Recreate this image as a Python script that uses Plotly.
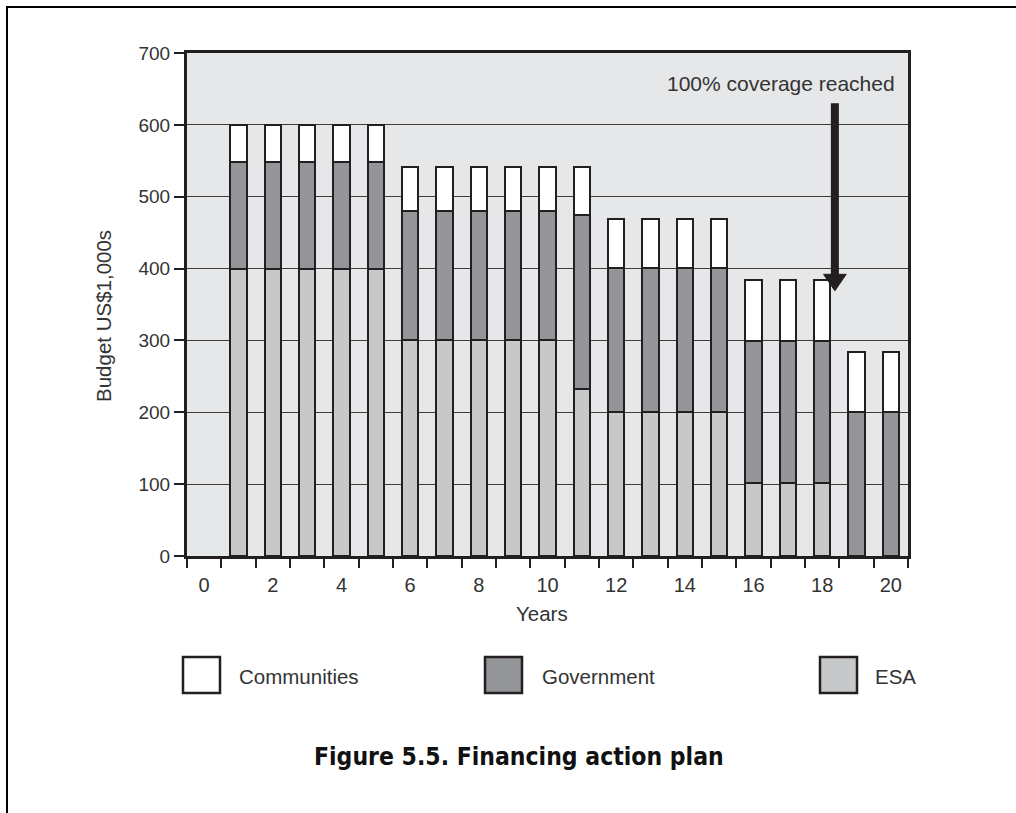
import plotly.graph_objects as go

# ---- data ----
years = list(range(1, 21))
esa = [400, 400, 400, 400, 400, 300, 300, 300, 300, 300, 232, 200, 200, 200, 200, 102, 102, 102, 0, 0]
government = [148, 148, 148, 148, 148, 180, 180, 180, 180, 180, 242, 201, 201, 201, 201, 197, 197, 197, 200, 200]
communities = [52, 52, 52, 52, 52, 62, 62, 62, 62, 62, 68, 68, 68, 68, 68, 85, 85, 85, 84, 84]
x_tick_labels = [str(v) for v in range(0, 21, 2)]
y_ticks = list(range(0, 701, 100))
series_names = ["Communities", "Government", "ESA"]
series_colors = {"Communities": "#ffffff", "Government": "#939598", "ESA": "#c7c8ca"}
annotation_text = "100% coverage reached"
caption = "Figure 5.5. Financing action plan"

W, H = 1016, 813
L, R, T, B = 187, 108, 53, 257
PW, PH = W - L - R, H - T - B

def px(xp):
    return (xp - L) / PW

def py(yp):
    return (H - B - yp) / PH

edge = "#231f20"
txt = "#333333"
font_main = "Liberation Sans, Arial, Helvetica, sans-serif"

fig = go.Figure()
for name, vals in [("ESA", esa), ("Government", government), ("Communities", communities)]:
    fig.add_trace(go.Bar(
        x=years, y=vals, name=name, width=0.48,
        marker=dict(color=series_colors[name], line=dict(color=edge, width=2)),
        showlegend=False,
    ))

shapes = []
annotations = []

# arrow (data coordinates)
ax_x = 18.37
shapes.append(dict(type="line", xref="x", yref="y", x0=ax_x, x1=ax_x, y0=630, y1=390,
                   line=dict(color=edge, width=8)))
shapes.append(dict(type="path", xref="x", yref="y",
                   path=f"M {ax_x-0.33},392 L {ax_x+0.33},392 L {ax_x},369 Z",
                   fillcolor=edge, line=dict(color=edge, width=1)))
annotations.append(dict(text=annotation_text, xref="x", yref="y", x=20.18, y=658,
                        xanchor="right", yanchor="middle", showarrow=False,
                        font=dict(size=21, color=txt, family=font_main)))

# legend boxes
legend_pos = {"Communities": (182, 237), "Government": (484, 540), "ESA": (819, 873)}
for name in series_names:
    bx, tx = legend_pos[name]
    shapes.append(dict(type="rect", xref="paper", yref="paper",
                       x0=px(bx + 1), x1=px(bx + 38), y0=py(657), y1=py(693),
                       fillcolor=series_colors[name], line=dict(color=edge, width=2.5)))
    annotations.append(dict(text=name, xref="paper", yref="paper", x=px(tx), y=py(676),
                            xanchor="left", yanchor="middle", showarrow=False,
                            font=dict(size=20.5, color=txt, family=font_main)))

# axis titles
annotations.append(dict(text="Years", xref="paper", yref="paper", x=px(542), y=py(613),
                        xanchor="center", yanchor="middle", showarrow=False,
                        font=dict(size=20.5, color=txt, family=font_main)))
annotations.append(dict(text="Budget US$1,000s", xref="paper", yref="paper", x=px(103), y=py(316),
                        xanchor="center", yanchor="middle", showarrow=False, textangle=-90,
                        font=dict(size=20.5, color=txt, family=font_main)))
# caption
annotations.append(dict(text="<b>" + caption + "</b>", xref="paper", yref="paper", x=px(519), y=py(756),
                        xanchor="center", yanchor="middle", showarrow=False,
                        font=dict(size=24.5, color="#111111",
                                  family="Liberation Sans Narrow, DejaVu Sans Condensed, Arial Narrow, sans-serif")))

# outer frame (left and top lines)
shapes.append(dict(type="line", xref="paper", yref="paper", x0=px(7), x1=px(7), y0=py(6), y1=py(H + 5),
                   line=dict(color="#000000", width=2)))
shapes.append(dict(type="line", xref="paper", yref="paper", x0=px(6), x1=px(W + 5), y0=py(7), y1=py(7),
                   line=dict(color="#000000", width=2)))

fig.update_layout(
    width=W, height=H,
    margin=dict(l=L, r=R, t=T, b=B),
    barmode="stack",
    plot_bgcolor="#e6e7e8",
    paper_bgcolor="#ffffff",
    shapes=shapes,
    annotations=annotations,
    font=dict(family=font_main, color=txt, size=20),
    xaxis=dict(
        range=[-0.5, 20.5], tickmode="array",
        tickvals=list(range(0, 21, 2)), ticktext=x_tick_labels,
        ticks="outside", ticklen=9, tickcolor="rgba(0,0,0,0)", ticklabelstandoff=0,
        showgrid=False, zeroline=False,
        showline=True, linecolor=edge, linewidth=3, mirror=True,
        minor=dict(tickmode="array", tickvals=[i - 0.5 for i in range(0, 22)],
                   ticks="outside", ticklen=9, tickcolor=edge, tickwidth=1.5, showgrid=False),
        tickfont=dict(size=20, color=txt),
    ),
    yaxis=dict(
        range=[0, 700], tickmode="array", tickvals=y_ticks,
        ticks="outside", ticklen=10, tickcolor=edge, tickwidth=1.5,
        showgrid=True, gridcolor="#3d3d3d", gridwidth=1,
        zeroline=False,
        showline=True, linecolor=edge, linewidth=3, mirror=True,
        tickfont=dict(size=19, color=txt),
    ),
)

fig.write_html("out.html", config={"displayModeBar": False},
               post_script="document.body.style.margin='0px';")
